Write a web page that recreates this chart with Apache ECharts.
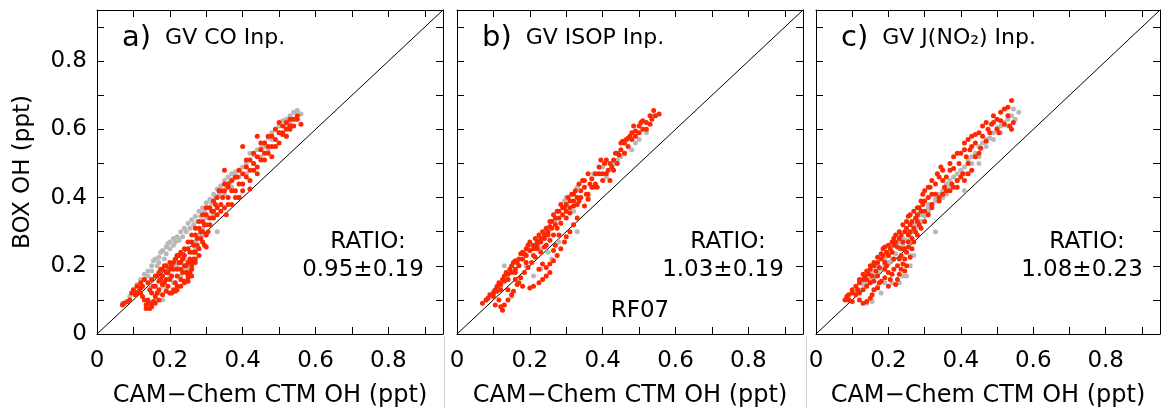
<!DOCTYPE html>
<html>
<head>
<meta charset="utf-8">
<script src="https://cdn.jsdelivr.net/npm/echarts@6/dist/echarts.min.js"></script>
<style>html,body{margin:0;padding:0;background:#fff;}#chart{width:1163px;height:413px;}</style>
</head>
<body>
<div id="chart"></div>
<script>
// ---------------- DATA ----------------
const panelTitles = ['a)', 'b)', 'c)'];
const panelSubtitles = ['GV CO Inp.', 'GV ISOP Inp.', 'GV J(NO\u2082) Inp.'];
const ratioTexts = ['0.95\u00b10.19', '1.03\u00b10.19', '1.08\u00b10.23'];
const flightLabel = 'RF07';
const axisMax = 0.95;
const oneToOne = [[0, 0], [0.95, 0.95]];

const aGray = [[0.07,0.09],[0.08,0.095],[0.09,0.11],[0.10,0.12],[0.11,0.145],[0.12,0.16],[0.13,0.175],[0.14,0.185],[0.15,0.20],[0.155,0.215],[0.16,0.22],[0.17,0.225],[0.175,0.24],[0.18,0.245],[0.19,0.255],[0.195,0.265],[0.20,0.27],[0.21,0.28],[0.22,0.285],[0.23,0.30],[0.24,0.31],[0.25,0.325],[0.26,0.335],[0.27,0.345],[0.28,0.36],[0.29,0.37],[0.30,0.385],[0.31,0.395],[0.32,0.41],[0.33,0.425],[0.34,0.435],[0.35,0.45],[0.36,0.46],[0.37,0.47],[0.38,0.475],[0.39,0.48],[0.41,0.50],[0.42,0.51],[0.43,0.525],[0.45,0.545],[0.46,0.56],[0.47,0.575],[0.48,0.59],[0.49,0.60],[0.50,0.61],[0.51,0.625],[0.52,0.63],[0.53,0.64],[0.54,0.65],[0.55,0.655],[0.56,0.645],[0.15,0.14],[0.16,0.10],[0.17,0.12],[0.18,0.10],[0.19,0.13],[0.21,0.15],[0.23,0.17],[0.22,0.20],[0.24,0.22],[0.25,0.19],[0.26,0.24],[0.27,0.27],[0.28,0.29],[0.29,0.31],[0.30,0.34],[0.32,0.35],[0.33,0.30],[0.35,0.41],[0.37,0.43],[0.39,0.46],[0.41,0.47],[0.43,0.50],[0.45,0.52],[0.47,0.54],[0.49,0.55],[0.52,0.58],
  [0.10,0.13],[0.12,0.15],[0.13,0.16],[0.14,0.17],[0.15,0.185],[0.165,0.20],[0.17,0.21],[0.185,0.22],[0.19,0.235],[0.20,0.25],[0.21,0.26],[0.215,0.27],[0.225,0.275],[0.235,0.285],[0.245,0.30],[0.255,0.31],[0.265,0.32],[0.275,0.33],[0.285,0.345],[0.295,0.36],[0.305,0.37],[0.315,0.385],[0.325,0.40],[0.335,0.41],[0.345,0.42],[0.355,0.435],[0.365,0.445],[0.375,0.455],[0.40,0.49],[0.42,0.53],[0.44,0.54],[0.46,0.55],[0.48,0.57],[0.50,0.59],[0.52,0.61],[0.545,0.63],[0.53,0.62],[0.20,0.17],[0.18,0.14],[0.24,0.19],[0.27,0.25],[0.29,0.29]];
const aRed = [[0.07,0.085],[0.075,0.09],[0.085,0.095],[0.09,0.10],[0.095,0.12],[0.10,0.13],[0.105,0.115],[0.11,0.14],[0.115,0.125],[0.12,0.135],[0.12,0.15],[0.125,0.11],[0.13,0.16],[0.13,0.10],[0.135,0.085],[0.135,0.075],[0.14,0.09],[0.145,0.075],[0.15,0.08],[0.155,0.095],[0.15,0.12],[0.16,0.11],[0.16,0.14],[0.165,0.17],[0.17,0.13],[0.17,0.155],[0.175,0.19],[0.18,0.145],[0.18,0.17],[0.185,0.20],[0.19,0.16],[0.19,0.18],[0.195,0.14],[0.20,0.12],[0.20,0.19],[0.205,0.17],[0.21,0.13],[0.21,0.21],[0.215,0.15],[0.22,0.14],[0.22,0.19],[0.225,0.23],[0.23,0.16],[0.23,0.21],[0.235,0.18],[0.24,0.15],[0.24,0.23],[0.245,0.20],[0.25,0.17],[0.25,0.25],[0.255,0.22],[0.26,0.19],[0.26,0.27],[0.265,0.24],[0.27,0.21],[0.27,0.29],[0.275,0.26],[0.28,0.23],[0.28,0.31],[0.285,0.28],[0.29,0.30],[0.29,0.33],[0.295,0.26],[0.30,0.32],[0.30,0.35],[0.305,0.30],[0.31,0.34],[0.31,0.37],[0.32,0.36],[0.32,0.39],[0.33,0.35],[0.33,0.40],[0.34,0.38],[0.34,0.42],[0.35,0.37],[0.35,0.44],[0.36,0.40],[0.36,0.43],[0.37,0.38],[0.37,0.45],[0.38,0.42],[0.385,0.46],[0.39,0.40],[0.40,0.47],[0.40,0.44],[0.41,0.49],[0.42,0.45],[0.42,0.51],[0.43,0.48],[0.44,0.52],[0.44,0.49],[0.45,0.54],[0.46,0.51],[0.46,0.56],[0.47,0.53],[0.48,0.55],[0.48,0.58],[0.49,0.57],[0.50,0.59],[0.50,0.56],[0.51,0.61],[0.52,0.60],[0.52,0.62],[0.53,0.61],[0.54,0.63],[0.55,0.63],[0.56,0.615],[0.51,0.585],[0.40,0.55],[0.35,0.48],[0.44,0.58],[0.30,0.255],[0.27,0.22],[0.26,0.17],[0.25,0.155],[0.42,0.425],[0.39,0.40],[0.355,0.35],
  [0.11,0.12],[0.12,0.12],[0.125,0.14],[0.14,0.15],[0.145,0.13],[0.15,0.16],[0.155,0.14],[0.16,0.17],[0.165,0.12],[0.17,0.18],[0.175,0.16],[0.18,0.19],[0.185,0.15],[0.19,0.20],[0.195,0.18],[0.20,0.21],[0.20,0.16],[0.205,0.20],[0.21,0.19],[0.215,0.22],[0.22,0.17],[0.22,0.23],[0.225,0.21],[0.23,0.19],[0.23,0.24],[0.235,0.22],[0.24,0.20],[0.24,0.25],[0.245,0.18],[0.25,0.21],[0.25,0.27],[0.255,0.24],[0.26,0.21],[0.26,0.29],[0.265,0.26],[0.27,0.24],[0.27,0.31],[0.275,0.28],[0.28,0.25],[0.28,0.33],[0.285,0.30],[0.29,0.27],[0.29,0.35],[0.295,0.32],[0.30,0.29],[0.30,0.37],[0.31,0.32],[0.315,0.36],[0.32,0.34],[0.325,0.38],[0.33,0.37],[0.335,0.42],[0.34,0.36],[0.345,0.40],[0.35,0.42],[0.36,0.44],[0.36,0.38],[0.37,0.42],[0.38,0.46],[0.38,0.40],[0.39,0.44],[0.39,0.48],[0.40,0.42],[0.41,0.46],[0.41,0.51],[0.42,0.48],[0.43,0.50],[0.43,0.53],[0.44,0.47],[0.45,0.51],[0.45,0.56],[0.46,0.53],[0.47,0.55],[0.47,0.58],[0.48,0.52],[0.49,0.55],[0.49,0.60],[0.50,0.62],[0.51,0.59],[0.53,0.60],[0.53,0.63],[0.54,0.61],[0.55,0.64],[0.52,0.58],
  [0.16,0.09],[0.17,0.10],[0.18,0.115],[0.19,0.125],[0.205,0.12],[0.215,0.125],[0.22,0.13],[0.23,0.14],[0.24,0.155],[0.25,0.165],[0.255,0.18],[0.26,0.20],[0.265,0.22],[0.15,0.09],[0.14,0.10]];

const bGray = [[0.08,0.10],[0.10,0.125],[0.12,0.14],[0.14,0.16],[0.16,0.19],[0.13,0.20],[0.18,0.235],[0.20,0.26],[0.22,0.28],[0.24,0.30],[0.27,0.33],[0.30,0.40],[0.295,0.39],[0.33,0.43],[0.375,0.47],[0.40,0.49],[0.43,0.50],[0.45,0.52],[0.48,0.54],[0.50,0.57],[0.52,0.59],[0.54,0.64],[0.33,0.30],[0.26,0.22],[0.21,0.17],[0.23,0.19],[0.15,0.11],[0.36,0.40],[0.41,0.46],[0.46,0.53],[0.25,0.24],[0.28,0.27],[0.19,0.20],[0.11,0.13],[0.17,0.20],[0.23,0.25],[0.32,0.36],[0.44,0.51],[0.49,0.56]];
const bRed = [[0.07,0.09],[0.08,0.10],[0.085,0.105],[0.09,0.115],[0.10,0.12],[0.105,0.13],[0.11,0.14],[0.115,0.15],[0.12,0.145],[0.125,0.16],[0.13,0.17],[0.135,0.18],[0.14,0.175],[0.145,0.19],[0.15,0.20],[0.155,0.21],[0.16,0.215],[0.17,0.22],[0.175,0.235],[0.18,0.24],[0.19,0.25],[0.20,0.245],[0.21,0.26],[0.22,0.27],[0.23,0.28],[0.24,0.29],[0.25,0.30],[0.255,0.315],[0.26,0.33],[0.27,0.34],[0.28,0.36],[0.29,0.37],[0.30,0.38],[0.31,0.39],[0.32,0.41],[0.33,0.40],[0.34,0.42],[0.345,0.45],[0.35,0.43],[0.36,0.41],[0.365,0.44],[0.37,0.455],[0.375,0.43],[0.385,0.43],[0.39,0.47],[0.395,0.51],[0.40,0.45],[0.405,0.50],[0.41,0.47],[0.415,0.48],[0.42,0.45],[0.425,0.49],[0.43,0.51],[0.44,0.53],[0.445,0.525],[0.45,0.54],[0.455,0.565],[0.46,0.56],[0.47,0.575],[0.475,0.58],[0.48,0.59],[0.49,0.595],[0.50,0.61],[0.51,0.625],[0.53,0.615],[0.53,0.64],[0.54,0.655],[0.555,0.645],[0.51,0.60],[0.125,0.07],[0.13,0.085],[0.14,0.10],[0.15,0.115],[0.155,0.125],[0.165,0.145],[0.175,0.165],[0.185,0.18],[0.195,0.195],[0.205,0.21],[0.215,0.225],[0.23,0.24],[0.245,0.26],[0.255,0.275],[0.265,0.29],[0.275,0.31],[0.285,0.325],[0.20,0.135],[0.21,0.14],[0.225,0.15],[0.235,0.16],[0.245,0.17],[0.255,0.18],[0.245,0.195],[0.255,0.205],[0.265,0.215],[0.275,0.23],[0.285,0.25],[0.295,0.27],[0.30,0.285],[0.31,0.30],[0.32,0.32],[0.33,0.34],[0.235,0.205],[0.225,0.19],[0.265,0.245],[0.27,0.26],[0.18,0.14],[0.17,0.15],[0.16,0.16],[0.115,0.10],[0.105,0.085],[0.12,0.08],[0.14,0.13],[0.16,0.18],[0.19,0.21],[0.21,0.23],[0.22,0.25],[0.24,0.255],[0.28,0.29],[0.30,0.34],[0.31,0.355],[0.32,0.375],[0.335,0.39],[0.35,0.375],[0.36,0.395],
  [0.10,0.11],[0.11,0.125],[0.12,0.13],[0.13,0.155],[0.14,0.16],[0.15,0.18],[0.16,0.19],[0.165,0.21],[0.17,0.20],[0.18,0.22],[0.185,0.235],[0.19,0.23],[0.195,0.26],[0.20,0.27],[0.21,0.25],[0.215,0.28],[0.22,0.26],[0.225,0.29],[0.23,0.27],[0.235,0.30],[0.24,0.28],[0.245,0.31],[0.25,0.29],[0.255,0.33],[0.26,0.31],[0.265,0.35],[0.27,0.32],[0.275,0.36],[0.28,0.34],[0.285,0.38],[0.29,0.35],[0.295,0.37],[0.30,0.36],[0.305,0.40],[0.31,0.37],[0.315,0.41],[0.32,0.39],[0.325,0.42],[0.33,0.38],[0.335,0.44],[0.34,0.40],[0.35,0.45],[0.355,0.41],[0.36,0.47],[0.37,0.43],[0.38,0.47],[0.38,0.44],[0.39,0.49],[0.40,0.47],[0.41,0.51],[0.42,0.50],[0.43,0.48],[0.435,0.53],[0.44,0.50],[0.45,0.56],[0.46,0.53],[0.465,0.57],[0.47,0.55],[0.48,0.57],[0.485,0.61],[0.49,0.58],[0.50,0.59],[0.505,0.62],[0.52,0.62],[0.52,0.60],[0.535,0.63],[0.545,0.64]];

const cGray = [[0.09,0.105],[0.11,0.12],[0.12,0.13],[0.13,0.145],[0.14,0.15],[0.15,0.16],[0.16,0.17],[0.17,0.18],[0.18,0.19],[0.19,0.20],[0.20,0.21],[0.21,0.22],[0.22,0.235],[0.23,0.25],[0.24,0.26],[0.25,0.275],[0.26,0.29],[0.27,0.30],[0.28,0.315],[0.29,0.33],[0.30,0.345],[0.31,0.36],[0.32,0.38],[0.33,0.395],[0.34,0.41],[0.35,0.42],[0.36,0.44],[0.37,0.45],[0.38,0.46],[0.39,0.47],[0.40,0.48],[0.41,0.49],[0.42,0.51],[0.43,0.52],[0.44,0.53],[0.45,0.55],[0.46,0.56],[0.47,0.57],[0.48,0.575],[0.49,0.59],[0.50,0.605],[0.51,0.61],[0.52,0.62],[0.53,0.63],[0.54,0.64],[0.545,0.66],[0.56,0.65],[0.33,0.30],[0.14,0.09],[0.155,0.095],[0.18,0.12],[0.21,0.15],[0.23,0.15],[0.25,0.17],[0.26,0.20],[0.27,0.23],[0.20,0.23],[0.22,0.26],[0.24,0.28],[0.28,0.34],[0.31,0.38],[0.41,0.42],[0.36,0.41],[0.45,0.50],
  [0.15,0.18],[0.17,0.20],[0.19,0.22],[0.21,0.24],[0.23,0.27],[0.25,0.30],[0.27,0.32],[0.29,0.35],[0.31,0.37],[0.33,0.39],[0.35,0.40],[0.37,0.43],[0.39,0.45],[0.41,0.47],[0.43,0.50],[0.45,0.52],[0.47,0.55],[0.49,0.57],[0.51,0.59],[0.53,0.61],[0.55,0.63],[0.17,0.14],[0.19,0.15],[0.24,0.17],[0.26,0.23]];
const cRed = [[0.08,0.10],[0.085,0.11],[0.09,0.115],[0.10,0.12],[0.11,0.14],[0.115,0.13],[0.12,0.15],[0.13,0.16],[0.135,0.17],[0.14,0.16],[0.145,0.175],[0.15,0.19],[0.155,0.17],[0.16,0.20],[0.165,0.185],[0.17,0.21],[0.175,0.195],[0.18,0.22],[0.185,0.23],[0.19,0.21],[0.195,0.24],[0.20,0.23],[0.205,0.25],[0.21,0.24],[0.215,0.26],[0.22,0.27],[0.225,0.255],[0.23,0.28],[0.235,0.29],[0.24,0.27],[0.245,0.30],[0.25,0.31],[0.255,0.29],[0.26,0.32],[0.265,0.33],[0.27,0.31],[0.275,0.34],[0.28,0.35],[0.285,0.37],[0.29,0.36],[0.295,0.38],[0.30,0.39],[0.30,0.42],[0.31,0.40],[0.315,0.43],[0.32,0.41],[0.33,0.44],[0.33,0.41],[0.335,0.47],[0.345,0.49],[0.35,0.45],[0.355,0.43],[0.36,0.46],[0.37,0.48],[0.375,0.44],[0.38,0.485],[0.39,0.45],[0.395,0.50],[0.40,0.53],[0.405,0.47],[0.41,0.54],[0.415,0.52],[0.42,0.50],[0.425,0.54],[0.43,0.55],[0.44,0.56],[0.44,0.585],[0.45,0.53],[0.455,0.545],[0.46,0.58],[0.47,0.565],[0.475,0.60],[0.48,0.59],[0.485,0.615],[0.49,0.62],[0.50,0.60],[0.505,0.59],[0.51,0.625],[0.52,0.615],[0.53,0.665],[0.535,0.61],[0.54,0.685],[0.54,0.60],[0.09,0.10],[0.10,0.095],[0.12,0.10],[0.13,0.09],[0.14,0.095],[0.15,0.105],[0.155,0.115],[0.16,0.13],[0.17,0.135],[0.175,0.15],[0.18,0.155],[0.19,0.165],[0.20,0.14],[0.205,0.16],[0.21,0.175],[0.215,0.19],[0.22,0.145],[0.225,0.16],[0.23,0.175],[0.235,0.19],[0.24,0.205],[0.245,0.22],[0.25,0.24],[0.255,0.255],[0.245,0.185],[0.25,0.20],[0.26,0.225],[0.265,0.25],[0.27,0.27],[0.28,0.29],[0.29,0.31],[0.30,0.33],[0.31,0.35],[0.32,0.37],[0.34,0.39],[0.35,0.41],[0.37,0.42],[0.39,0.43],[0.41,0.45],[0.43,0.48],[0.20,0.18],[0.19,0.19],[0.23,0.22],[0.16,0.155],[0.14,0.14],[0.13,0.13],[0.11,0.115],
  [0.10,0.13],[0.12,0.16],[0.13,0.175],[0.14,0.185],[0.15,0.20],[0.16,0.21],[0.17,0.225],[0.18,0.235],[0.185,0.25],[0.19,0.255],[0.20,0.26],[0.21,0.27],[0.215,0.28],[0.22,0.29],[0.23,0.30],[0.24,0.32],[0.25,0.33],[0.255,0.345],[0.26,0.35],[0.27,0.36],[0.28,0.37],[0.29,0.39],[0.295,0.41],[0.31,0.43],[0.32,0.45],[0.34,0.46],[0.35,0.48],[0.37,0.50],[0.38,0.52],[0.39,0.53],[0.41,0.56],[0.42,0.57],[0.43,0.58],[0.45,0.59],[0.46,0.61],[0.47,0.62],[0.49,0.64],[0.50,0.63],[0.51,0.65],[0.52,0.66],[0.53,0.64],[0.545,0.62],[0.44,0.52],[0.42,0.47],[0.40,0.46],[0.38,0.43],[0.36,0.42],[0.34,0.40],[0.32,0.38],[0.30,0.36],[0.28,0.33],[0.26,0.30],[0.235,0.25],[0.215,0.22],[0.195,0.20],[0.17,0.17],[0.15,0.15],[0.12,0.12],[0.225,0.20],[0.235,0.23],[0.245,0.25],[0.255,0.27],[0.265,0.28],[0.275,0.30],[0.285,0.32]];

const grayData = [aGray, bGray, cGray];
const redData = [aRed, bRed, cRed];

// ---------------- LAYOUT / STYLE ----------------
const FONT = 'DejaVu Sans';
const grids = [
  {left: 97, top: 10, width: 346, height: 324},
  {left: 457, top: 10, width: 346, height: 324},
  {left: 816, top: 10, width: 346, height: 324}
];
const RED = '#ff2600';
const GRAY = '#b8b8b8';

function tickFmt(v) {
  const k = v * 10;
  if (Math.abs(k - Math.round(k)) > 1e-6) return '';
  const r = Math.round(k);
  if (r % 2 !== 0) return '';
  if (r === 0) return '0';
  return (r / 10).toFixed(1);
}

const xAxes = [], yAxes = [], series = [], graphic = [];
grids.forEach((g, i) => {
  const common = {
    type: 'value', min: 0, max: axisMax, interval: 0.1, gridIndex: i,
    axisLine: {show: true, onZero: false, lineStyle: {color: '#000', width: 1}},
    axisTick: {show: true, inside: true, length: 7, lineStyle: {color: '#000', width: 1}},
    splitLine: {show: false}
  };
  xAxes.push(Object.assign({}, common, {
    position: 'bottom',
    axisLabel: {formatter: tickFmt, fontSize: 23, fontFamily: FONT, color: '#000', margin: 16},
    name: 'CAM\u2212Chem CTM OH (ppt)', nameLocation: 'middle', nameGap: 50,
    nameTextStyle: {fontSize: 24, fontFamily: FONT, color: '#000'}
  }));
  xAxes.push(Object.assign({}, common, {position: 'top', axisLabel: {show: false}}));
  const yl = Object.assign({}, common, {
    position: 'left',
    axisLabel: {show: i === 0, formatter: tickFmt, fontSize: 23, fontFamily: FONT, color: '#000', margin: 10}
  });
  if (i === 0) {
    yl.name = 'BOX OH (ppt)';
    yl.nameLocation = 'middle';
    yl.nameGap = 62;
    yl.nameTextStyle = {fontSize: 23, fontFamily: FONT, color: '#000'};
  }
  yAxes.push(yl);
  yAxes.push(Object.assign({}, common, {position: 'right', axisLabel: {show: false}}));

  series.push({type: 'line', xAxisIndex: 2 * i, yAxisIndex: 2 * i, data: oneToOne, symbol: 'none',
    lineStyle: {color: '#000', width: 1}, silent: true, z: 2});
  series.push({type: 'scatter', xAxisIndex: 2 * i, yAxisIndex: 2 * i, data: grayData[i], symbolSize: 5,
    itemStyle: {color: GRAY, opacity: 1}, z: 3});
  series.push({type: 'scatter', xAxisIndex: 2 * i, yAxisIndex: 2 * i, data: redData[i], symbolSize: 5,
    itemStyle: {color: RED, opacity: 1}, z: 4});

  graphic.push({type: 'text', left: g.left + 25, top: 24, z: 10,
    style: {text: '{p|' + panelTitles[i] + '}{t|' + panelSubtitles[i] + '}', fill: '#000',
      rich: {p: {fontSize: 29, fontFamily: FONT, fill: '#000', padding: [0, 14, 0, 0]},
             t: {fontSize: 22, fontFamily: FONT, fill: '#000'}}}});
  graphic.push({type: 'text', x: g.left + 271, y: 242, z: 10,
    style: {text: 'RATIO:', fontSize: 23, fontFamily: FONT, fill: '#000', align: 'center', verticalAlign: 'middle'}});
  graphic.push({type: 'text', x: g.left + 266, y: 270, z: 10,
    style: {text: ratioTexts[i], fontSize: 23, fontFamily: FONT, fill: '#000', align: 'center', verticalAlign: 'middle'}});
});
graphic.push({type: 'text', x: grids[1].left + 183, y: 311, z: 10,
  style: {text: flightLabel, fontSize: 23, fontFamily: FONT, fill: '#000', align: 'center', verticalAlign: 'middle'}});
graphic.push({type: 'line', shape: {x1: 444.5, y1: 336, x2: 444.5, y2: 408}, style: {stroke: '#d0d0d0', lineWidth: 1}});
graphic.push({type: 'line', shape: {x1: 806.5, y1: 336, x2: 806.5, y2: 408}, style: {stroke: '#d0d0d0', lineWidth: 1}});

const chart = echarts.init(document.getElementById('chart'), null, {renderer: 'canvas'});
chart.setOption({
  animation: false,
  backgroundColor: '#fff',
  grid: grids,
  xAxis: xAxes,
  yAxis: yAxes,
  series: series,
  graphic: graphic
});
</script>
</body>
</html>
